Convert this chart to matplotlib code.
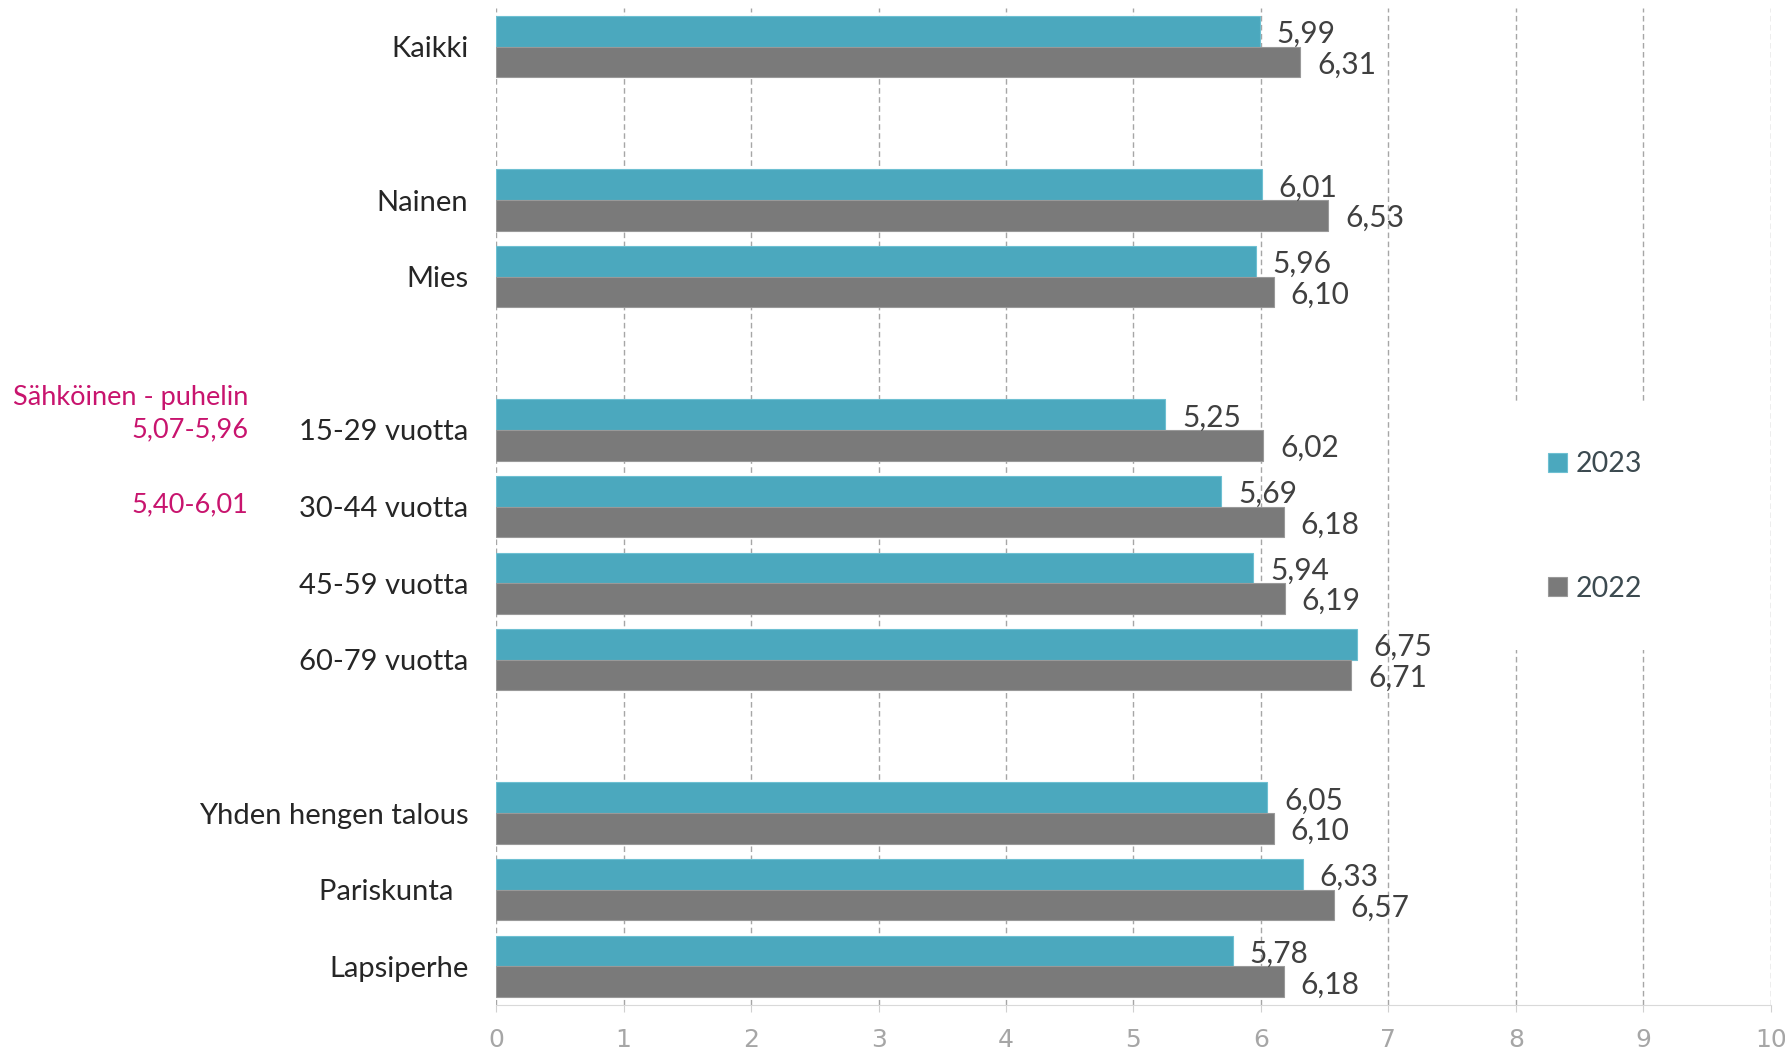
import matplotlib
matplotlib.use("Agg")
import matplotlib.pyplot as plt
import numpy as np

# ---- data ----
categories = ["Kaikki",
              "Nainen", "Mies",
              "15-29 vuotta", "30-44 vuotta", "45-59 vuotta", "60-79 vuotta",
              "Yhden hengen talous", "Pariskunta  ", "Lapsiperhe"]
group_sizes = [1, 2, 4, 3]
values_2023 = [5.99, 6.01, 5.96, 5.25, 5.69, 5.94, 6.75, 6.05, 6.33, 5.78]
values_2022 = [6.31, 6.53, 6.10, 6.02, 6.18, 6.19, 6.71, 6.10, 6.57, 6.18]
series_labels = ["2023", "2022"]
xticks = list(range(0, 11))
note_title = "Sähköinen - puhelin"
note_ranges = ["5,07-5,96", "5,40-6,01"]

# ---- styles ----
TEAL = "#4BA8BE"
GRAY = "#7A7A7A"
MAGENTA = "#C8146E"
FONT = ["Lato", "DejaVu Sans"]

# positions: one empty slot between groups
pos = []
p = 0
for g in group_sizes:
    for i in range(g):
        pos.append(p)
        p += 1
    p += 1
pos = np.array(pos, dtype=float)

fig = plt.figure(figsize=(17.85, 10.52), dpi=100)
ax = fig.add_axes([0.278, 0.045, 0.714, 0.947])

h = 0.4
b1 = ax.barh(pos - h / 2, values_2023, height=h, color=TEAL, edgecolor="#6EC0D2",
             linewidth=0.8, label=series_labels[0], zorder=3)
b2 = ax.barh(pos + h / 2, values_2022, height=h, color=GRAY, edgecolor="#999999",
             linewidth=0.8, label=series_labels[1], zorder=3)

for bars, vals in ((b1, values_2023), (b2, values_2022)):
    for rect, v in zip(bars, vals):
        ax.annotate(f"{v:.2f}".replace(".", ","),
                    xy=(rect.get_width(), rect.get_y() + rect.get_height() / 2),
                    xytext=(12, -2), textcoords="offset points",
                    ha="left", va="center", fontsize=21.5, color="#404040",
                    family=FONT, zorder=4)

ax.set_xlim(0, 10)
ax.set_ylim(pos[-1] + 0.5, -0.5)
ax.set_xticks(xticks)
ax.set_xticklabels([str(t) for t in xticks], family=["Liberation Sans Narrow", "DejaVu Sans"],
                   fontsize=18, color="#A6A6A6")
ax.tick_params(axis="x", length=5, color="#D0D0D0", pad=12)
ax.set_yticks(pos)
ax.set_yticklabels(categories, family=FONT, fontsize=21, color="#262626")
ax.tick_params(axis="y", length=0, pad=20)

for s in ["top", "right", "left"]:
    ax.spines[s].set_visible(False)
ax.spines["bottom"].set_color("#D9D9D9")
ax.spines["bottom"].set_linewidth(0.8)

ax.xaxis.grid(True, color="#A6A6A6", linewidth=1.0, linestyle=(0, (4, 2.5)), zorder=0)
ax.set_axisbelow(True)

# notes (left, magenta)
tr = matplotlib.transforms.blended_transform_factory(fig.transFigure, ax.transData)
note_x = 248 / 1785
ax.text(note_x, pos[3] - 0.42, note_title, transform=tr, ha="right", va="center",
        fontsize=19.5, color=MAGENTA, family=FONT)
ax.text(note_x, pos[3], note_ranges[0], transform=tr, ha="right", va="center",
        fontsize=19.5, color=MAGENTA, family=FONT)
ax.text(note_x, pos[4] - 0.02, note_ranges[1], transform=tr, ha="right", va="center",
        fontsize=19.5, color=MAGENTA, family=FONT)

leg = ax.legend(loc="center", bbox_to_anchor=(1595 / 1785, 1 - 526.5 / 1052),
                bbox_transform=fig.transFigure, frameon=True, fancybox=False,
                facecolor="white", edgecolor="none", framealpha=1.0,
                prop={"family": FONT, "size": 20.5}, labelspacing=3.45,
                handlelength=0.65, handleheight=0.65, handletextpad=0.3,
                borderpad=1.7)
for t in leg.get_texts():
    t.set_color("#3C4A50")
leg.set_zorder(5)

fig.savefig("out.png", dpi=100)
